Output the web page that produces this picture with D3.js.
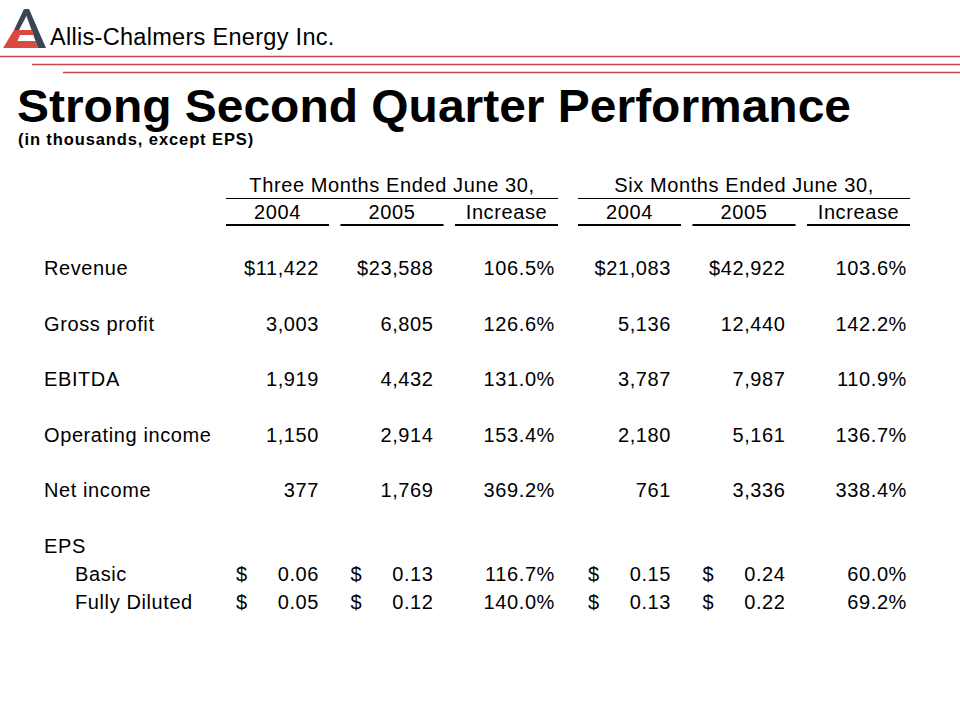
<!DOCTYPE html>
<html><head><meta charset="utf-8">
<script src="https://cdn.jsdelivr.net/npm/d3@7"></script>
<style>body{margin:0;background:#fff}svg{display:block}text{font-family:"Liberation Sans",Arial,sans-serif;fill:#000}</style>
</head><body>
<svg id="c" width="960" height="720"></svg>
<script>
const company = "Allis-Chalmers Energy Inc.";
const title = "Strong Second Quarter Performance";
const subtitle = "(in thousands, except EPS)";
const periods = ["Three Months Ended June 30,", "Six Months Ended June 30,"];
const columnLabels = ["2004", "2005", "Increase"];
const categories = ["Revenue", "Gross profit", "EBITDA", "Operating income", "Net income"];
// three months: 2004, 2005, increase %; six months: 2004, 2005, increase %
const threeM2004 = [11422, 3003, 1919, 1150, 377];
const threeM2005 = [23588, 6805, 4432, 2914, 1769];
const threeMInc  = [106.5, 126.6, 131.0, 153.4, 369.2];
const sixM2004   = [21083, 5136, 3787, 2180, 761];
const sixM2005   = [42922, 12440, 7987, 5161, 3336];
const sixMInc    = [103.6, 142.2, 110.9, 136.7, 338.4];
const epsHeader = "EPS";
const epsCategories = ["Basic", "Fully Diluted"];
const eps3M2004 = [0.06, 0.05];
const eps3M2005 = [0.13, 0.12];
const eps3MInc  = [116.7, 140.0];
const eps6M2004 = [0.15, 0.13];
const eps6M2005 = [0.24, 0.22];
const eps6MInc  = [60.0, 69.2];

const svg = d3.select("#c");
const red = "#c94a4a";

// logo
const logo = svg.append("g");
logo.append("path").attr("d","M24,9 L29,9 L46,48 L38,48 Z").attr("fill","#3b4654");
logo.append("path").attr("d","M24,9 L27,15 L19,30 L14,30 Z").attr("fill","#3b4654");
logo.append("path").attr("d","M14,30 L32,30 L34,35 L20,35 L17.5,41 L35.5,41 L38,48 L3,48 Z").attr("fill","#d94b3f");
svg.append("text").attr("x",50).attr("y",45).attr("font-size",23.5).attr("letter-spacing",0.3).text(company);

// header rules
const rules = [{y:56.5,x0:0},{y:64.5,x0:32},{y:72.5,x0:63}];
svg.selectAll("line.rule").data(rules).join("line").attr("class","rule")
  .attr("x1",d=>d.x0).attr("x2",960).attr("y1",d=>d.y).attr("y2",d=>d.y)
  .attr("stroke",red).attr("stroke-width",1.3);

svg.append("text").attr("x",17).attr("y",122).attr("font-size",47).attr("font-weight","bold")
  .attr("textLength",834).attr("lengthAdjust","spacingAndGlyphs").text(title);
svg.append("text").attr("x",18).attr("y",145).attr("font-size",16.5).attr("font-weight","bold")
  .attr("letter-spacing",0.9).text(subtitle);

// scales
const groupX = d3.scaleBand().domain([0,1]).range([226,910]).paddingInner(20/352);
const colX = d3.scaleBand().domain([0,1,2]).range([0,groupX.bandwidth()]).paddingInner(0.1);
const fs = 20;
const ls = 0.6;
const inset = 10, pctInset = 3;

const rowsMain = categories.map((c,i)=>({label:c, idx:i*2, indent:false,
  vals:[threeM2004[i],threeM2005[i],threeMInc[i],sixM2004[i],sixM2005[i],sixMInc[i]], eps:false}));
const rowsEps = epsCategories.map((c,i)=>({label:c, idx:11+i, indent:true,
  vals:[eps3M2004[i],eps3M2005[i],eps3MInc[i],eps6M2004[i],eps6M2005[i],eps6MInc[i]], eps:true}));
const rows = rowsMain.concat([{label:epsHeader, idx:10, indent:false, vals:null}], rowsEps);

const y = d3.scaleLinear().domain([0,12]).range([275,608.6]);

const fmtInt = d3.format(",");
const fmtEps = d3.format(".2f");
const fmtPct = v => d3.format(".1f")(v) + "%";

function txt(x, yy, s, anchor){
  return svg.append("text").attr("x",x).attr("y",yy).attr("font-size",fs)
    .attr("letter-spacing",ls).attr("text-anchor",anchor||"start").text(s);
}

// header
periods.forEach((p,g)=>{
  const gx = groupX(g);
  txt(gx+groupX.bandwidth()/2, 192, p, "middle");
  svg.append("line").attr("x1",gx).attr("x2",gx+groupX.bandwidth()).attr("y1",198.5).attr("y2",198.5)
    .attr("stroke","#000").attr("stroke-width",1.2);
  columnLabels.forEach((cl,k)=>{
    const cx = gx + colX(k);
    txt(cx+colX.bandwidth()/2, 219, cl, "middle");
    svg.append("line").attr("x1",cx).attr("x2",cx+colX.bandwidth()).attr("y1",225).attr("y2",225)
      .attr("stroke","#000").attr("stroke-width",2);
  });
});

// rows
rows.forEach(r=>{
  txt(r.indent ? 75 : 44, y(r.idx), r.label);
  if(!r.vals) return;
  r.vals.forEach((v,j)=>{
    const g = Math.floor(j/3), k = j%3;
    const cx = groupX(g) + colX(k);
    let s;
    if(k===2) s = fmtPct(v);
    else if(r.eps) {
      s = fmtEps(v);
      txt(cx+inset, y(r.idx), "$");
    } else {
      s = (r.idx===0 ? "$" : "") + fmtInt(v);
    }
    txt(cx+colX.bandwidth()-(k===2?pctInset:inset), y(r.idx), s, "end");
  });
});
</script>
</body></html>
